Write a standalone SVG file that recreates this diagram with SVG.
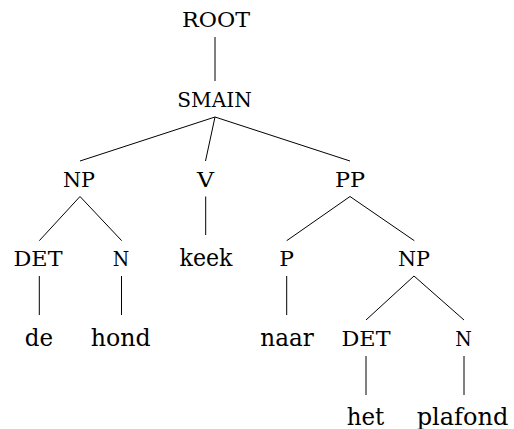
<svg xmlns="http://www.w3.org/2000/svg" width="514" height="429" viewBox="0 0 514 429">
  <style>
    text { font-family: "DejaVu Serif", "Liberation Serif", "Times New Roman", serif; fill: #000; text-anchor: middle; }
    .cat { font-size: 20px; }
    .word { font-size: 25px; }
    .edges line { stroke: #000; stroke-width: 1; }
  </style>
  <rect width="514" height="429" fill="#fff"/>

  <!-- tree edges -->
  <g id="connectors" class="edges">
    <line x1="215" y1="37" x2="215" y2="81"/>
    <line x1="215" y1="117" x2="80" y2="161"/>
    <line x1="215" y1="117" x2="205.5" y2="161"/>
    <line x1="215" y1="117" x2="350" y2="161"/>
    <line x1="80" y1="196.5" x2="39.3" y2="240.7"/>
    <line x1="80" y1="196.5" x2="121.7" y2="240.7"/>
    <line x1="205.7" y1="196.5" x2="205.7" y2="235"/>
    <line x1="350" y1="196.5" x2="286.7" y2="240.7"/>
    <line x1="350" y1="196.5" x2="414.3" y2="240.7"/>
    <line x1="39.3" y1="276" x2="39.3" y2="315"/>
    <line x1="121.5" y1="276" x2="121.5" y2="315"/>
    <line x1="286.7" y1="276" x2="286.7" y2="315"/>
    <line x1="414" y1="276" x2="366" y2="320"/>
    <line x1="414" y1="276" x2="464" y2="320"/>
    <line x1="366" y1="356" x2="366" y2="395"/>
    <line x1="464" y1="356" x2="464" y2="395"/>
  </g>

  <!-- categories -->
  <g id="root"><text class="cat" x="216" y="27" textLength="68" lengthAdjust="spacingAndGlyphs">ROOT</text></g>
  <g id="smain"><text class="cat" x="214.5" y="107" textLength="74.5" lengthAdjust="spacingAndGlyphs">SMAIN</text></g>
  <g id="np1"><text class="cat" x="79" y="187" textLength="32" lengthAdjust="spacingAndGlyphs">NP</text></g>
  <g id="v"><text class="cat" x="205.5" y="187" textLength="17" lengthAdjust="spacingAndGlyphs">V</text></g>
  <g id="pp"><text class="cat" x="350" y="187" textLength="30" lengthAdjust="spacingAndGlyphs">PP</text></g>
  <g id="det1"><text class="cat" x="38" y="266" textLength="49" lengthAdjust="spacingAndGlyphs">DET</text></g>
  <g id="n1"><text class="cat" x="121" y="266" textLength="16.5" lengthAdjust="spacingAndGlyphs">N</text></g>
  <g id="p"><text class="cat" x="286.7" y="266" textLength="14.7" lengthAdjust="spacingAndGlyphs">P</text></g>
  <g id="np2"><text class="cat" x="414" y="266" textLength="32" lengthAdjust="spacingAndGlyphs">NP</text></g>
  <g id="det2"><text class="cat" x="366" y="346" textLength="49" lengthAdjust="spacingAndGlyphs">DET</text></g>
  <g id="n2"><text class="cat" x="463.5" y="346" textLength="16.5" lengthAdjust="spacingAndGlyphs">N</text></g>

  <!-- words -->
  <g id="w-de"><text class="word" x="39" y="346" textLength="28.3" lengthAdjust="spacingAndGlyphs">de</text></g>
  <g id="w-hond"><text class="word" x="120.7" y="346" textLength="60" lengthAdjust="spacingAndGlyphs">hond</text></g>
  <g id="w-keek"><text class="word" x="206" y="266" textLength="53" lengthAdjust="spacingAndGlyphs">keek</text></g>
  <g id="w-naar"><text class="word" x="287" y="346" textLength="53.5" lengthAdjust="spacingAndGlyphs">naar</text></g>
  <g id="w-het"><text class="word" x="365.5" y="424.5" textLength="37.6" lengthAdjust="spacingAndGlyphs">het</text></g>
  <g id="w-plafond"><text class="word" x="462.5" y="424.5" textLength="91.7" lengthAdjust="spacingAndGlyphs">plafond</text></g>
</svg>
